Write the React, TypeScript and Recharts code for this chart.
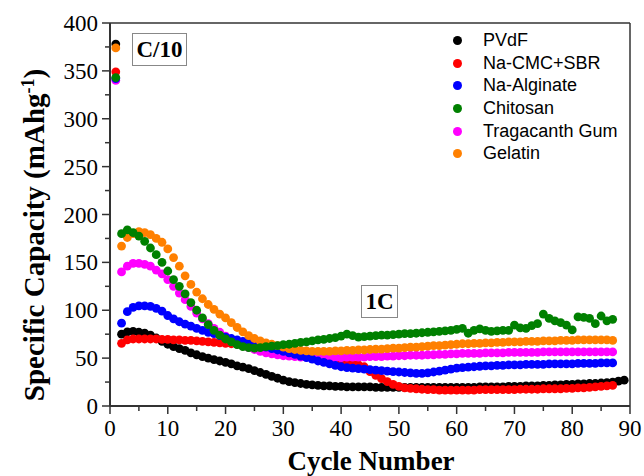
import React from 'react';
import { ScatterChart, Scatter, XAxis, YAxis, ReferenceLine } from 'recharts';

const pvdf = [378, 75, 77.5, 78, 77, 76, 74, 71, 67.5, 64.5,
  62, 60, 58, 55.5, 53.5, 51.5, 50, 48.5, 47, 45.5,
  44, 42, 40.5, 39, 37, 35, 33, 31, 29, 27,
  25.5, 24.5, 23.5, 22.5, 22, 21.5, 21, 21, 20.5, 20.5,
  20, 20, 20, 20, 20, 19.5, 19.5, 19.5, 19.5, 19.5,
  19.5, 19.5, 19.5, 19.5, 19.5, 19.5, 19.5, 19.5, 19.5, 19.5,
  19.5, 19.5, 19.5, 20, 20, 20, 20, 20, 20.5, 20.5,
  20.5, 21, 21, 21, 21.5, 21.5, 22, 22, 22.5, 22.5,
  23, 23, 23.5, 23.5, 24, 24.5, 25, 26, 27];

const naCmcSbr = [349, 65.5, 69, 70, 70, 70, 70, 70, 69.5, 69.5,
  69, 69, 68.5, 68.5, 68, 67.5, 67, 66.5, 66, 65.5,
  65, 64.5, 64, 63, 62.5, 62, 61, 60, 59, 58,
  57, 56, 55, 54, 53, 52, 50.5, 49, 47.5, 46,
  45, 44, 43, 41, 36, 32, 28.5, 25.5, 22.5, 20.5,
  19, 18.5, 18, 17.5, 17, 17, 16.5, 16.5, 16.5, 16.5,
  16.5, 16.5, 16.5, 17, 17, 17, 17, 17, 17, 17,
  17.5, 17.5, 17.5, 17.5, 18, 18, 18, 18, 18.5, 18.5,
  19, 19, 19.5, 20, 20.5, 21, 21.5];

const naAlginate = [342, 86.5, 98.5, 103, 104.5, 104.5, 104, 102, 99, 94.5,
  91, 88, 85.5, 83.5, 81, 79, 77, 75.5, 73.5, 72,
  70.5, 69, 67.5, 66, 64.5, 63, 61.5, 60, 58.5, 57,
  55.5, 54, 52, 50.5, 49, 47, 45.5, 44, 42.5, 41,
  40, 39.5, 39, 38.5, 38, 37.5, 37, 36.5, 36, 35.5,
  35, 34.5, 34, 34, 34.5, 35.5, 36.5, 37.5, 38.5, 39.5,
  40, 40.5, 41, 41.5, 42, 42, 42.5, 42.5, 43, 43,
  43, 43.5, 43.5, 43.5, 43.5, 44, 44, 44, 44, 44,
  44.5, 44.5, 44.5, 44.5, 45, 45, 45];

const chitosan = [343, 180, 184, 181, 177.5, 172, 165, 158, 150, 141,
  132, 125, 117, 108, 100, 92, 85, 79, 74, 70,
  67, 64, 62, 61, 60.5, 61, 62, 62.5, 63, 64,
  64.5, 65.5, 66.5, 67, 68, 69, 69.5, 70.5, 71.5, 73,
  75, 73.5, 72, 72.5, 73, 73.5, 74, 74, 74.5, 75,
  75.5, 75.5, 76, 76.5, 77, 77.5, 78, 78.5, 79, 80,
  81, 76, 79, 80.5, 79, 78, 78.5, 79, 79, 84.5,
  81.5, 81, 84, 86, 96, 91.5, 89, 87, 84.5, 79.5,
  93, 92.5, 91.5, 86, 94, 89, 90.5];

const tragacanthGum = [340, 140, 146, 149, 149, 148, 146, 142, 138, 132,
  125, 118, 111, 104, 97, 91, 86, 81, 77, 73,
  69.5, 66.5, 63.5, 61, 59, 57, 55.5, 54.5, 53.5, 52.5,
  52, 51.5, 51, 51, 50.5, 50.5, 50.5, 50.5, 50.5, 50.5,
  51, 51, 51, 51, 51.5, 51.5, 51.5, 52, 52, 52.5,
  52.5, 53, 53, 53, 53.5, 53.5, 54, 54, 54.5, 54.5,
  55, 55, 55, 55, 55.5, 55.5, 55.5, 55.5, 56, 56,
  56, 56, 56, 56, 56.5, 56.5, 56.5, 56.5, 56.5, 56.5,
  56.5, 56.5, 56.5, 56.5, 56.5, 56.5, 56.5];

const gelatin = [374, 167, 176, 180, 182, 181, 179, 175, 171, 164,
  155, 146, 136, 127, 119, 112, 106, 101, 96, 92,
  87, 82, 77.5, 73.5, 70.5, 68, 66, 64.5, 63, 61.5,
  60, 59, 58, 57.5, 57, 57, 57, 57, 57.5, 57.5,
  58, 58, 58.5, 58.5, 59, 59.5, 59.5, 60, 60.5, 60.5,
  61, 61.5, 61.5, 62, 62.5, 63, 63, 63.5, 64, 64.5,
  65, 65, 65.5, 65.5, 66, 66, 66.5, 66.5, 67, 67,
  67, 67.5, 67.5, 67.5, 68, 68, 68, 68.5, 68.5, 68.5,
  69, 69, 69, 69, 69, 69, 68.5];

const seriesNames = ['PVdF', 'Na-CMC+SBR', 'Na-Alginate', 'Chitosan', 'Tragacanth Gum', 'Gelatin'];
const seriesColors = ['#000000', '#ff0000', '#0000ff', '#008000', '#ff00ff', '#ff8000'];
const seriesValues = [pvdf, naCmcSbr, naAlginate, chitosan, tragacanthGum, gelatin];
// drawing order (later on top)
const drawOrder = [0, 1, 4, 2, 5, 3];

const xTicks = [0, 5, 10, 15, 20, 25, 30, 35, 40, 45, 50, 55, 60, 65, 70, 75, 80, 85, 90];
const yTicks = [0, 25, 50, 75, 100, 125, 150, 175, 200, 225, 250, 275, 300, 325, 350, 375, 400];

const toPoints = (vals: number[]) => vals.map((v, i) => ({ cycle: i + 1, cap: v }));

const AX = '#333333';
const SERIF = '"Liberation Serif", "Times New Roman", serif';
const SANS = '"Liberation Sans", Arial, sans-serif';

const XTick = (props: any) => {
  const { x, y, payload } = props;
  const v = payload.value;
  const major = v % 10 === 0;
  return (
    <g>
      <line x1={x} x2={x} y1={y} y2={y + (major ? 8 : 5)} stroke={AX} strokeWidth={1.5} />
      {major && (
        <text x={x} y={y + 30} textAnchor="middle" fontFamily={SERIF} fontSize={23} fill="#000">{v}</text>
      )}
    </g>
  );
};

const YTick = (props: any) => {
  const { x, y, payload } = props;
  const v = payload.value;
  const major = v % 50 === 0;
  return (
    <g>
      <line x1={x} x2={x - (major ? 8 : 5)} y1={y} y2={y} stroke={AX} strokeWidth={1.5} />
      {major && (
        <text x={x - 12} y={y + 8} textAnchor="end" fontFamily={SERIF} fontSize={23} fill="#000">{v}</text>
      )}
    </g>
  );
};

const makeDot = (color: string) => (p: any) => (
  <circle cx={p.cx} cy={p.cy} r={4.4} fill={color} />
);

export default function App() {
  return (
    <div style={{ position: 'fixed', left: 0, top: 0, width: 644, height: 476, background: '#fff', overflow: 'hidden' }}>
      <ScatterChart width={644} height={476} margin={{ top: 23, right: 14, bottom: 40, left: 50 }}>
        <XAxis
          type="number"
          dataKey="cycle"
          domain={[0, 90]}
          ticks={xTicks}
          interval={0}
          height={30}
          tickSize={0}
          tickMargin={0}
          tickLine={false}
          axisLine={{ stroke: AX, strokeWidth: 2 }}
          tick={<XTick />}
          allowDataOverflow
        />
        <YAxis
          type="number"
          dataKey="cap"
          domain={[0, 400]}
          ticks={yTicks}
          interval={0}
          width={60}
          tickSize={0}
          tickMargin={0}
          tickLine={false}
          axisLine={{ stroke: AX, strokeWidth: 2 }}
          tick={<YTick />}
          allowDataOverflow
        />
        <ReferenceLine y={400} stroke={AX} strokeWidth={1.5} />
        <ReferenceLine x={90} stroke={AX} strokeWidth={1.5} />
        {drawOrder.map((k) => (
          <Scatter
            key={seriesNames[k]}
            name={seriesNames[k]}
            data={toPoints(seriesValues[k])}
            fill={seriesColors[k]}
            shape={makeDot(seriesColors[k])}
            isAnimationActive={false}
          />
        ))}
      </ScatterChart>

      {/* legend */}
      <div style={{ position: 'absolute', left: 450, top: 29, fontFamily: SANS, fontSize: 18, color: '#000' }}>
        {seriesNames.map((n, i) => (
          <div key={n} style={{ height: 22.7, display: 'flex', alignItems: 'center' }}>
            <span style={{ display: 'inline-block', width: 9, height: 9, borderRadius: '50%', background: seriesColors[i], marginLeft: 2.5, marginRight: 21.5 }} />
            <span style={{ lineHeight: '22.7px' }}>{n}</span>
          </div>
        ))}
      </div>

      {/* annotations */}
      <div style={{ position: 'absolute', left: 132, top: 33, width: 55, height: 33, boxSizing: 'border-box', border: '1px solid #888', display: 'flex', alignItems: 'center', justifyContent: 'center', fontFamily: SERIF, fontWeight: 'bold', fontSize: 23 }}>C/10</div>
      <div style={{ position: 'absolute', left: 361, top: 285, width: 37, height: 33, boxSizing: 'border-box', border: '1px solid #888', display: 'flex', alignItems: 'center', justifyContent: 'center', fontFamily: SERIF, fontWeight: 'bold', fontSize: 23 }}>1C</div>

      {/* axis titles */}
      <div style={{ position: 'absolute', left: 0, width: 644, top: 446, textAlign: 'center', paddingLeft: 98, boxSizing: 'border-box', fontFamily: SERIF, fontWeight: 'bold', fontSize: 27, lineHeight: '30px' }}>Cycle Number</div>
      <div style={{ position: 'absolute', left: 31, top: 235, width: 0, height: 0 }}>
        <div style={{ position: 'absolute', left: 0, top: 0, transform: 'translate(-50%, -50%) rotate(-90deg)', whiteSpace: 'nowrap', fontFamily: SERIF, fontWeight: 'bold', fontSize: 29, lineHeight: '32px' }}>
          Specific Capacity (mAhg<sup style={{ fontSize: 18 }}>-1</sup>)
        </div>
      </div>
    </div>
  );
}
